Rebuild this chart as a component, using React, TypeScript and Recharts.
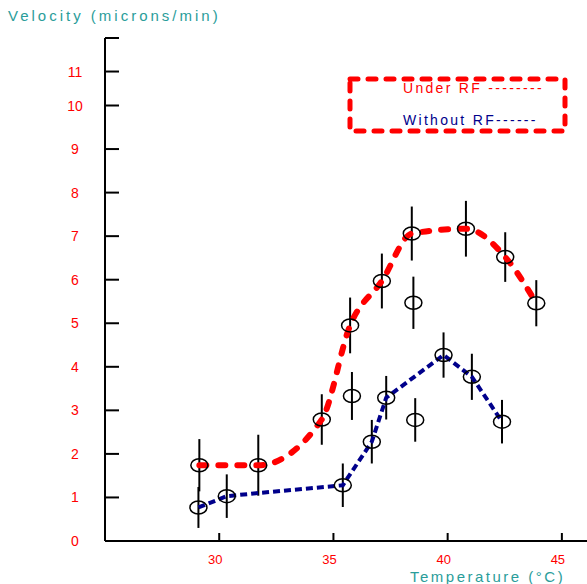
import { ComposedChart, Line, Scatter, ErrorBar, XAxis, YAxis, Legend } from "recharts";

// Under RF: circles with error bars, joined by the smooth red curve
const underRfTemp = [29.13, 31.71, 34.49, 35.73, 37.12, 38.43, 40.8, 42.52, 43.88];
const underRfVel = [1.74, 1.74, 2.79, 4.95, 5.97, 7.06, 7.17, 6.52, 5.46];
const underRfErr = [0.6, 0.7, 0.58, 0.64, 0.63, 0.62, 0.64, 0.57, 0.53];

// Without RF: circles with error bars
const withoutRfTemp = [29.09, 30.33, 35.41, 36.68, 37.31, 39.82, 41.06, 42.38];
const withoutRfVel = [0.77, 1.03, 1.28, 2.28, 3.29, 4.27, 3.77, 2.74];
const withoutRfErr = [0.47, 0.5, 0.5, 0.5, 0.5, 0.52, 0.53, 0.5];

// the blue dashed line also bends at 31.7 where no circle is drawn
const withoutRfLineTemp = [29.09, 30.33, 31.7, 35.41, 36.68, 37.31, 39.82, 41.06, 42.38];
const withoutRfLineVel = [0.77, 1.03, 1.1, 1.28, 2.28, 3.29, 4.27, 3.77, 2.74];

// loose measurements not on either line
const extraTemp = [35.81, 38.5, 38.58];
const extraVel = [3.33, 5.47, 2.78];
const extraErr = [0.55, 0.6, 0.5];

const xTicks = [30, 35, 40, 45];
const yTicks = [0, 1, 2, 3, 4, 5, 6, 7, 8, 9, 10, 10.78, 11.55];
const yTickLabels = ["0", "1", "2", "3", "4", "5", "6", "7", "8", "9", "10", "11", ""];

const zip = (xs: number[], ys: number[], es?: number[]) =>
  xs.map((x, i) => ({ x, y: ys[i], err: es ? es[i] : 0 }));

const underRfPts = zip(underRfTemp, underRfVel, underRfErr);
const withoutRfPts = zip(withoutRfTemp, withoutRfVel, withoutRfErr);
const withoutRfLine = zip(withoutRfLineTemp, withoutRfLineVel);
const extraPts = zip(extraTemp, extraVel, extraErr);

const RED = "#ff0000";
const NAVY = "#00008b";
const TEAL = "#2a9d9a";
const FONT = "'Liberation Sans', Arial, sans-serif";

const Ring = (p: any) => (
  <ellipse cx={p.cx} cy={p.cy} rx={8.5} ry={6.5} fill="none" stroke="#000" strokeWidth={1.5} />
);

const XTick = ({ x, y, payload }: any) => {
  const axisY = y - 13;
  return (
    <g>
      <line x1={x} x2={x} y1={axisY - 8} y2={axisY} stroke="#000" strokeWidth={2} />
      <text x={x - 4} y={axisY + 23} textAnchor="middle" fill={RED} fontSize={13} fontFamily={FONT}>
        {payload.value}
      </text>
    </g>
  );
};

const YTick = ({ x, y, payload }: any) => {
  const i = yTicks.indexOf(payload.value);
  return (
    <g>
      {payload.value !== 0 ? (
        <line x1={x} x2={x + 14} y1={y} y2={y} stroke="#000" strokeWidth={2} />
      ) : null}
      <text x={x - 30} y={y + 5} textAnchor="middle" fill={RED} fontSize={14} fontFamily={FONT}>
        {yTickLabels[i]}
      </text>
    </g>
  );
};

const LegendBox = () => (
  <svg width={226} height={62} style={{ display: "block" }}>
    <rect
      x={5}
      y={5}
      width={215}
      height={52}
      fill="none"
      stroke={RED}
      strokeWidth={5}
      strokeDasharray="8 10"
      strokeLinecap="round"
    />
    <text x={58} y={19} fill={RED} fontSize={14} fontFamily={FONT} letterSpacing={2.3}>
      Under RF --------
    </text>
    <text x={58} y={51} fill={NAVY} fontSize={14} fontFamily={FONT} letterSpacing={2.3}>
      Without RF------
    </text>
  </svg>
);

const titleStyle = {
  position: "absolute" as const,
  color: TEAL,
  fontFamily: FONT,
  fontSize: 15,
  lineHeight: "15px",
  whiteSpace: "nowrap" as const,
};

export default function App() {
  return (
    <div style={{ position: "absolute", left: 0, top: 0, width: 587, height: 584, background: "#fff" }}>
      <div style={{ ...titleStyle, left: 8, top: 8, letterSpacing: 3 }}>Velocity (microns/min)</div>
      <div style={{ ...titleStyle, left: 410, top: 569, letterSpacing: 2.5 }}>Temperature (°C)</div>
      <ComposedChart width={587} height={584} margin={{ top: 38, right: 0, bottom: 0, left: 0 }}>
        <XAxis
          type="number"
          dataKey="x"
          domain={[25, 46.1]}
          allowDataOverflow
          ticks={xTicks}
          height={43}
          tickSize={0}
          tickMargin={13}
          tickLine={false}
          tick={<XTick />}
          axisLine={{ stroke: "#000", strokeWidth: 2 }}
        />
        <YAxis
          type="number"
          dataKey="y"
          domain={[0, 11.55]}
          allowDataOverflow
          ticks={yTicks}
          interval={0}
          width={105}
          tickSize={0}
          tickMargin={0}
          tickLine={false}
          tick={<YTick />}
          axisLine={{ stroke: "#000", strokeWidth: 2 }}
        />
        <Legend
          layout="horizontal"
          verticalAlign="middle"
          align="center"
          wrapperStyle={{ left: 345, top: 74, width: 226, height: 62 }}
          content={() => <LegendBox />}
        />
        <Scatter data={underRfPts} dataKey="y" shape={<Ring />} isAnimationActive={false} legendType="none">
          <ErrorBar dataKey="err" direction="y" width={0} stroke="#000" strokeWidth={2} />
        </Scatter>
        <Scatter data={withoutRfPts} dataKey="y" shape={<Ring />} isAnimationActive={false} legendType="none">
          <ErrorBar dataKey="err" direction="y" width={0} stroke="#000" strokeWidth={2} />
        </Scatter>
        <Scatter data={extraPts} dataKey="y" shape={<Ring />} isAnimationActive={false} legendType="none">
          <ErrorBar dataKey="err" direction="y" width={0} stroke="#000" strokeWidth={2} />
        </Scatter>
        <Line
          data={underRfPts}
          dataKey="y"
          type="monotone"
          stroke={RED}
          strokeWidth={6}
          strokeDasharray="7 12"
          strokeLinecap="round"
          dot={false}
          activeDot={false}
          isAnimationActive={false}
          legendType="none"
        />
        <Line
          data={withoutRfLine}
          dataKey="y"
          type="linear"
          stroke={NAVY}
          strokeWidth={4}
          strokeDasharray="7 4"
          dot={false}
          activeDot={false}
          isAnimationActive={false}
          legendType="none"
        />
      </ComposedChart>
    </div>
  );
}
